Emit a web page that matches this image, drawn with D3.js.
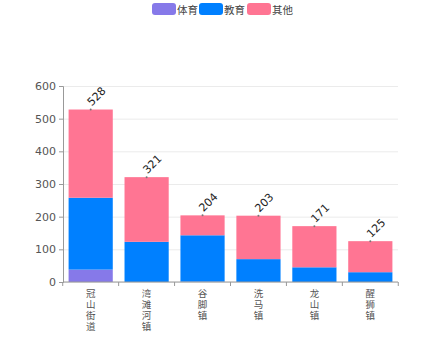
<!DOCTYPE html>
<html>
<head>
<meta charset="utf-8">
<script src="https://cdn.jsdelivr.net/npm/d3@7"></script>
<style>
  body { margin: 0; background: #fff; font-family: "Noto Sans CJK SC", "DejaVu Sans", sans-serif; }
  svg { display: block; }
</style>
</head>
<body>
<div id="chart"></div>
<script>
// Stacked counts per town
const towns = ['冠山街道', '湾滩河镇', '谷脚镇', '洗马镇', '龙山镇', '醒狮镇'];
const seriesNames = ['体育', '教育', '其他'];
const sports = [38, 0, 1, 0, 0, 0];
const education = [220, 123, 142, 70, 45, 30];
const other = [270, 198, 61, 133, 126, 95];
const totals = [528, 321, 204, 203, 171, 125];
const yTicks = [0, 100, 200, 300, 400, 500, 600];
const colors = ['#8679e9', '#0080ff', '#ff7593'];

const width = 443, height = 341;
const margin = { top: 86, right: 45, bottom: 59, left: 63 };
const innerW = width - margin.left - margin.right;
const innerH = height - margin.top - margin.bottom;

const svg = d3.select('#chart').append('svg')
  .attr('width', width).attr('height', height);

const g = svg.append('g')
  .attr('transform', `translate(${margin.left},${margin.top})`);

const rows = towns.map((t, i) => ({ town: t, '体育': sports[i], '教育': education[i], '其他': other[i] }));
const stacked = d3.stack().keys(seriesNames)(rows);

const x = d3.scaleBand().domain(towns).range([0, innerW]).paddingInner(0.21).paddingOuter(0.1);
const y = d3.scaleLinear().domain([0, 600]).range([innerH, 0]);

// Grid
g.append('g')
  .call(d3.axisLeft(y).tickValues(yTicks).tickSize(-innerW).tickFormat(''))
  .call(s => s.select('.domain').remove())
  .selectAll('line').attr('stroke', '#ebebeb');

// Bars
g.selectAll('.series')
  .data(stacked)
  .join('g')
  .attr('fill', (d, i) => colors[i])
  .selectAll('rect')
  .data(d => d)
  .join('rect')
  .attr('x', d => x(d.data.town))
  .attr('width', x.bandwidth())
  .attr('y', d => y(d[1]))
  .attr('height', d => y(d[0]) - y(d[1]));

// Y axis
const yAxis = g.append('g')
  .call(d3.axisLeft(y).tickValues(yTicks).tickSize(4).tickPadding(3));
yAxis.select('.domain').attr('stroke', '#999');
yAxis.selectAll('line').attr('stroke', '#999');
yAxis.selectAll('text').style('font-size', '11px').style('fill', '#555').style('font-family', 'DejaVu Sans, sans-serif');

// X axis with ticks on band boundaries
const xAxis = g.append('g').attr('transform', `translate(0,${innerH})`);
xAxis.append('line').attr('x1', 0).attr('x2', innerW).attr('stroke', '#999');
const step = x.step();
const bounds = d3.range(towns.length + 1).map(i => x(towns[0]) - step * x.paddingInner() / 2 + i * step);
xAxis.selectAll('.tk').data(bounds).join('line')
  .attr('x1', d => d).attr('x2', d => d).attr('y1', 0).attr('y2', 4)
  .attr('stroke', '#999');

// Town names written top to bottom
xAxis.selectAll('.lbl').data(towns).join('text')
  .attr('x', d => x(d) + x.bandwidth() / 2)
  .attr('y', 7)
  .style('writing-mode', 'vertical-rl')
  .style('text-orientation', 'upright')
  .style('letter-spacing', '1.5px')
  .style('font-size', '9.5px').style('fill', '#555')
  .text(d => d);

// Total labels
const tops = g.selectAll('.total').data(towns).join('g')
  .attr('transform', (d, i) => `translate(${x(d) + x.bandwidth() / 2},${y(totals[i])})`);
tops.append('circle').attr('r', 1).attr('fill', '#777');
tops.append('text')
  .attr('transform', 'translate(1,-3) rotate(-45)')
  .style('font-size', '11px').style('fill', '#222').style('font-family', 'DejaVu Sans, sans-serif')
  .text((d, i) => totals[i]);

// Legend
const legend = svg.append('g');
const items = [
  { name: seriesNames[0], x: 152 },
  { name: seriesNames[1], x: 199 },
  { name: seriesNames[2], x: 247 }
];
items.forEach((it, i) => {
  legend.append('rect').attr('x', it.x).attr('y', 3).attr('width', 24).attr('height', 12)
    .attr('rx', 3).attr('fill', colors[i]);
  legend.append('text').attr('x', it.x + 25).attr('y', 13.5)
    .style('font-size', '10.5px').style('fill', '#444').text(it.name);
});
</script>
</body>
</html>
